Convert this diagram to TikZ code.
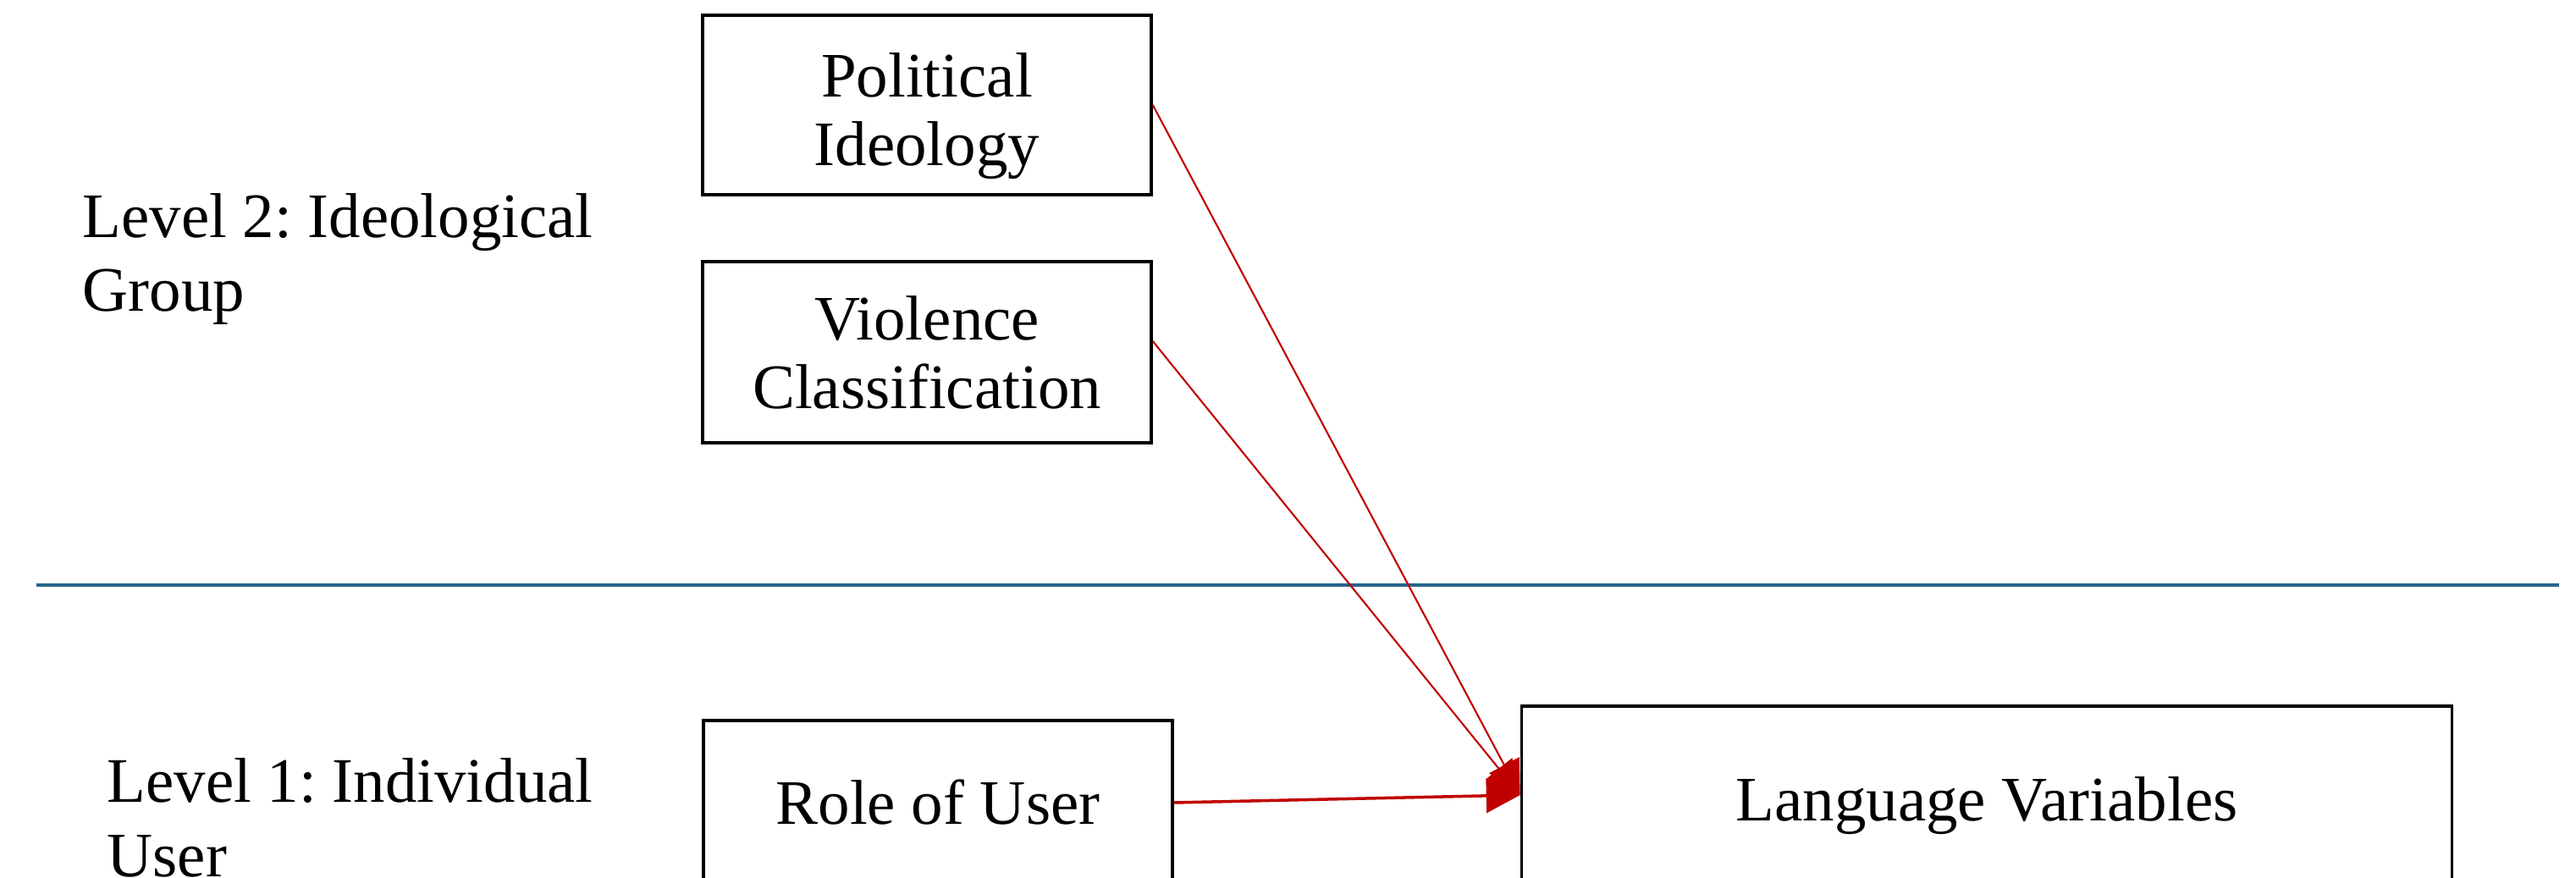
\documentclass[tikz,border=0pt]{standalone}
\usepackage{fontspec}
\setmainfont{Liberation Serif}
\frenchspacing
\usetikzlibrary{arrows.meta}
\definecolor{linkred}{RGB}{192,0,0}
\definecolor{ruleblue}{RGB}{38,100,140}

\begin{document}
\begin{tikzpicture}[
    box/.style={rectangle, draw, line width=1pt, align=center, inner sep=0pt, font=\fontsize{21.3}{23}\selectfont},
    level/.style={anchor=west, align=left, inner sep=0pt, font=\fontsize{21.3}{25}\selectfont},
    link/.style={draw=linkred, line width=0.6pt, -{Triangle[length=4mm,width=4mm]}}
]
\useasboundingbox (0,0) rectangle (30.43,10.37);

\node[level] (lvltwo) at (0.97,7.31) {Level 2: Ideological\\Group};
\node[level] (lvlone) at (1.26,0.71) {Level 1: Individual\\User};

\node[box, minimum width=5.3cm, minimum height=2.12cm] (pol) at (10.95,9.13) {\rule{0pt}{0.78cm}Political\\Ideology};
\node[box, minimum width=5.3cm, minimum height=2.14cm] (viol) at (10.95,6.21) {Violence\\Classification};
\node[box, minimum width=5.54cm, minimum height=1.94cm] (role) at (11.08,0.89) {Role of User};
\node[box, minimum width=10.99cm, minimum height=2.1cm, text height=0.77cm, text depth=0.16cm] (lang) at (23.47,0.98) {Language Variables};

\coordinate (ruleL) at (0.43,3.46);
\coordinate (ruleR) at (30.23,3.46);
\draw[ruleblue, line width=0.9pt] (ruleL) -- (ruleR);

\draw[link] (pol.east) -- (lang.west);
\draw[link] ([yshift=0.13cm]viol.east) -- (lang.west);
\draw[link, line width=1pt] (role.east) -- (lang.west);
\end{tikzpicture}
\end{document}
